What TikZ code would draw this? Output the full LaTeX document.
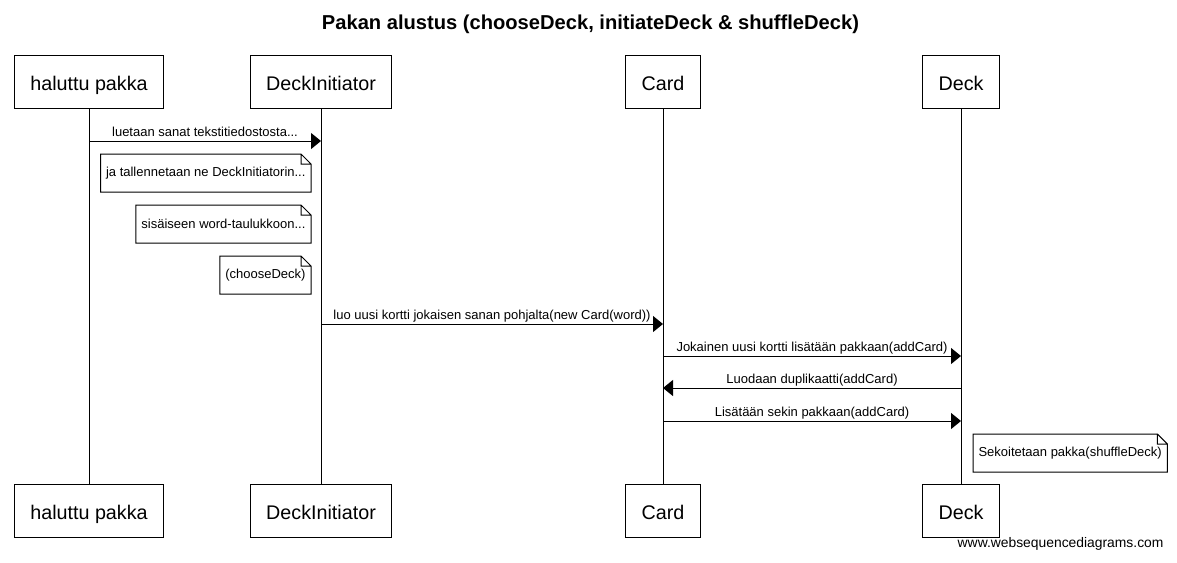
\documentclass[tikz,border=0pt]{standalone}
\usepackage{fontspec}
\setmainfont{Liberation Sans}
\usetikzlibrary{arrows.meta}

\begin{document}
\begin{tikzpicture}[x=0.75pt,y=-0.75pt,>={Triangle[length=7.5pt,width=12pt]},line width=0.75pt,
        actor/.style={draw,minimum height=39.75pt,inner xsep=12pt,text height=13.5pt,text depth=0pt,font=\fontsize{14.8}{18}\selectfont},
        note/.style={minimum height=27.75pt,inner xsep=3.75pt,font=\fontsize{9.75}{12}\selectfont},
        msg/.style={anchor=base,yshift=3.75pt,font=\fontsize{9.75}{12}\selectfont}]
        \useasboundingbox (0,0) rectangle (1177,562);
        \node[anchor=base,font=\bfseries\fontsize{15.1}{18}\selectfont] (title) at (590.5,29) {Pakan alustus (chooseDeck, initiateDeck \& shuffleDeck)};

        \node[actor] (hp) at (89,81.5) {haluttu pakka};
        \node[actor] (di) at (321,81.5) {DeckInitiator};
        \node[actor] (ca) at (663,81.5) {Card};
        \node[actor] (de) at (961,81.5) {Deck};
        \node[actor] (hp2) at (89,510.5) {haluttu pakka};
        \node[actor] (di2) at (321,510.5) {DeckInitiator};
        \node[actor] (ca2) at (663,510.5) {Card};
        \node[actor] (de2) at (961,510.5) {Deck};
        \foreach \p in {hp,di,ca,de}
            \draw (\p) -- (\p2);

        \node[note,anchor=north east] (n1) at (311,154) {ja tallennetaan ne DeckInitiatorin...};
        \node[note,anchor=north east] (n2) at (311,205) {sisäiseen word-taulukkoon...};
        \node[note,anchor=north east] (n3) at (311,256) {(chooseDeck)};
        \node[note,anchor=north west] (n4) at (973,434) {Sekoitetaan pakka(shuffleDeck)};
        \foreach \n in {n1,n2,n3,n4}
            \draw (\n.south west) -- (\n.north west) -- ([xshift=-7.5pt]\n.north east) -- ([yshift=-7.5pt]\n.north east) -- (\n.south east) -- cycle
                  ([xshift=-7.5pt]\n.north east) |- ([yshift=-7.5pt]\n.north east);

        \coordinate (m1a) at (89,141);  \coordinate (m1b) at (321,141);
        \coordinate (m2a) at (321,324); \coordinate (m2b) at (663,324);
        \coordinate (m3a) at (663,356); \coordinate (m3b) at (961,356);
        \coordinate (m4a) at (961,388); \coordinate (m4b) at (663,388);
        \coordinate (m5a) at (663,421); \coordinate (m5b) at (961,421);

        \path[->] (m1a) edge node[msg] {luetaan sanat tekstitiedostosta...} (m1b);
        \path[->] (m2a) edge node[msg] {luo uusi kortti jokaisen sanan pohjalta(new Card(word))} (m2b);
        \path[->] (m3a) edge node[msg] {Jokainen uusi kortti lisätään pakkaan(addCard)} (m3b);
        \path[->] (m4a) edge node[msg] {Luodaan duplikaatti(addCard)} (m4b);
        \path[->] (m5a) edge node[msg] {Lisätään sekin pakkaan(addCard)} (m5b);

        \node[anchor=base east,inner sep=0pt,font=\fontsize{10.4}{12}\selectfont] (wsd) at (1164,547) {www.websequencediagrams.com};
      \end{tikzpicture}
\end{document}
